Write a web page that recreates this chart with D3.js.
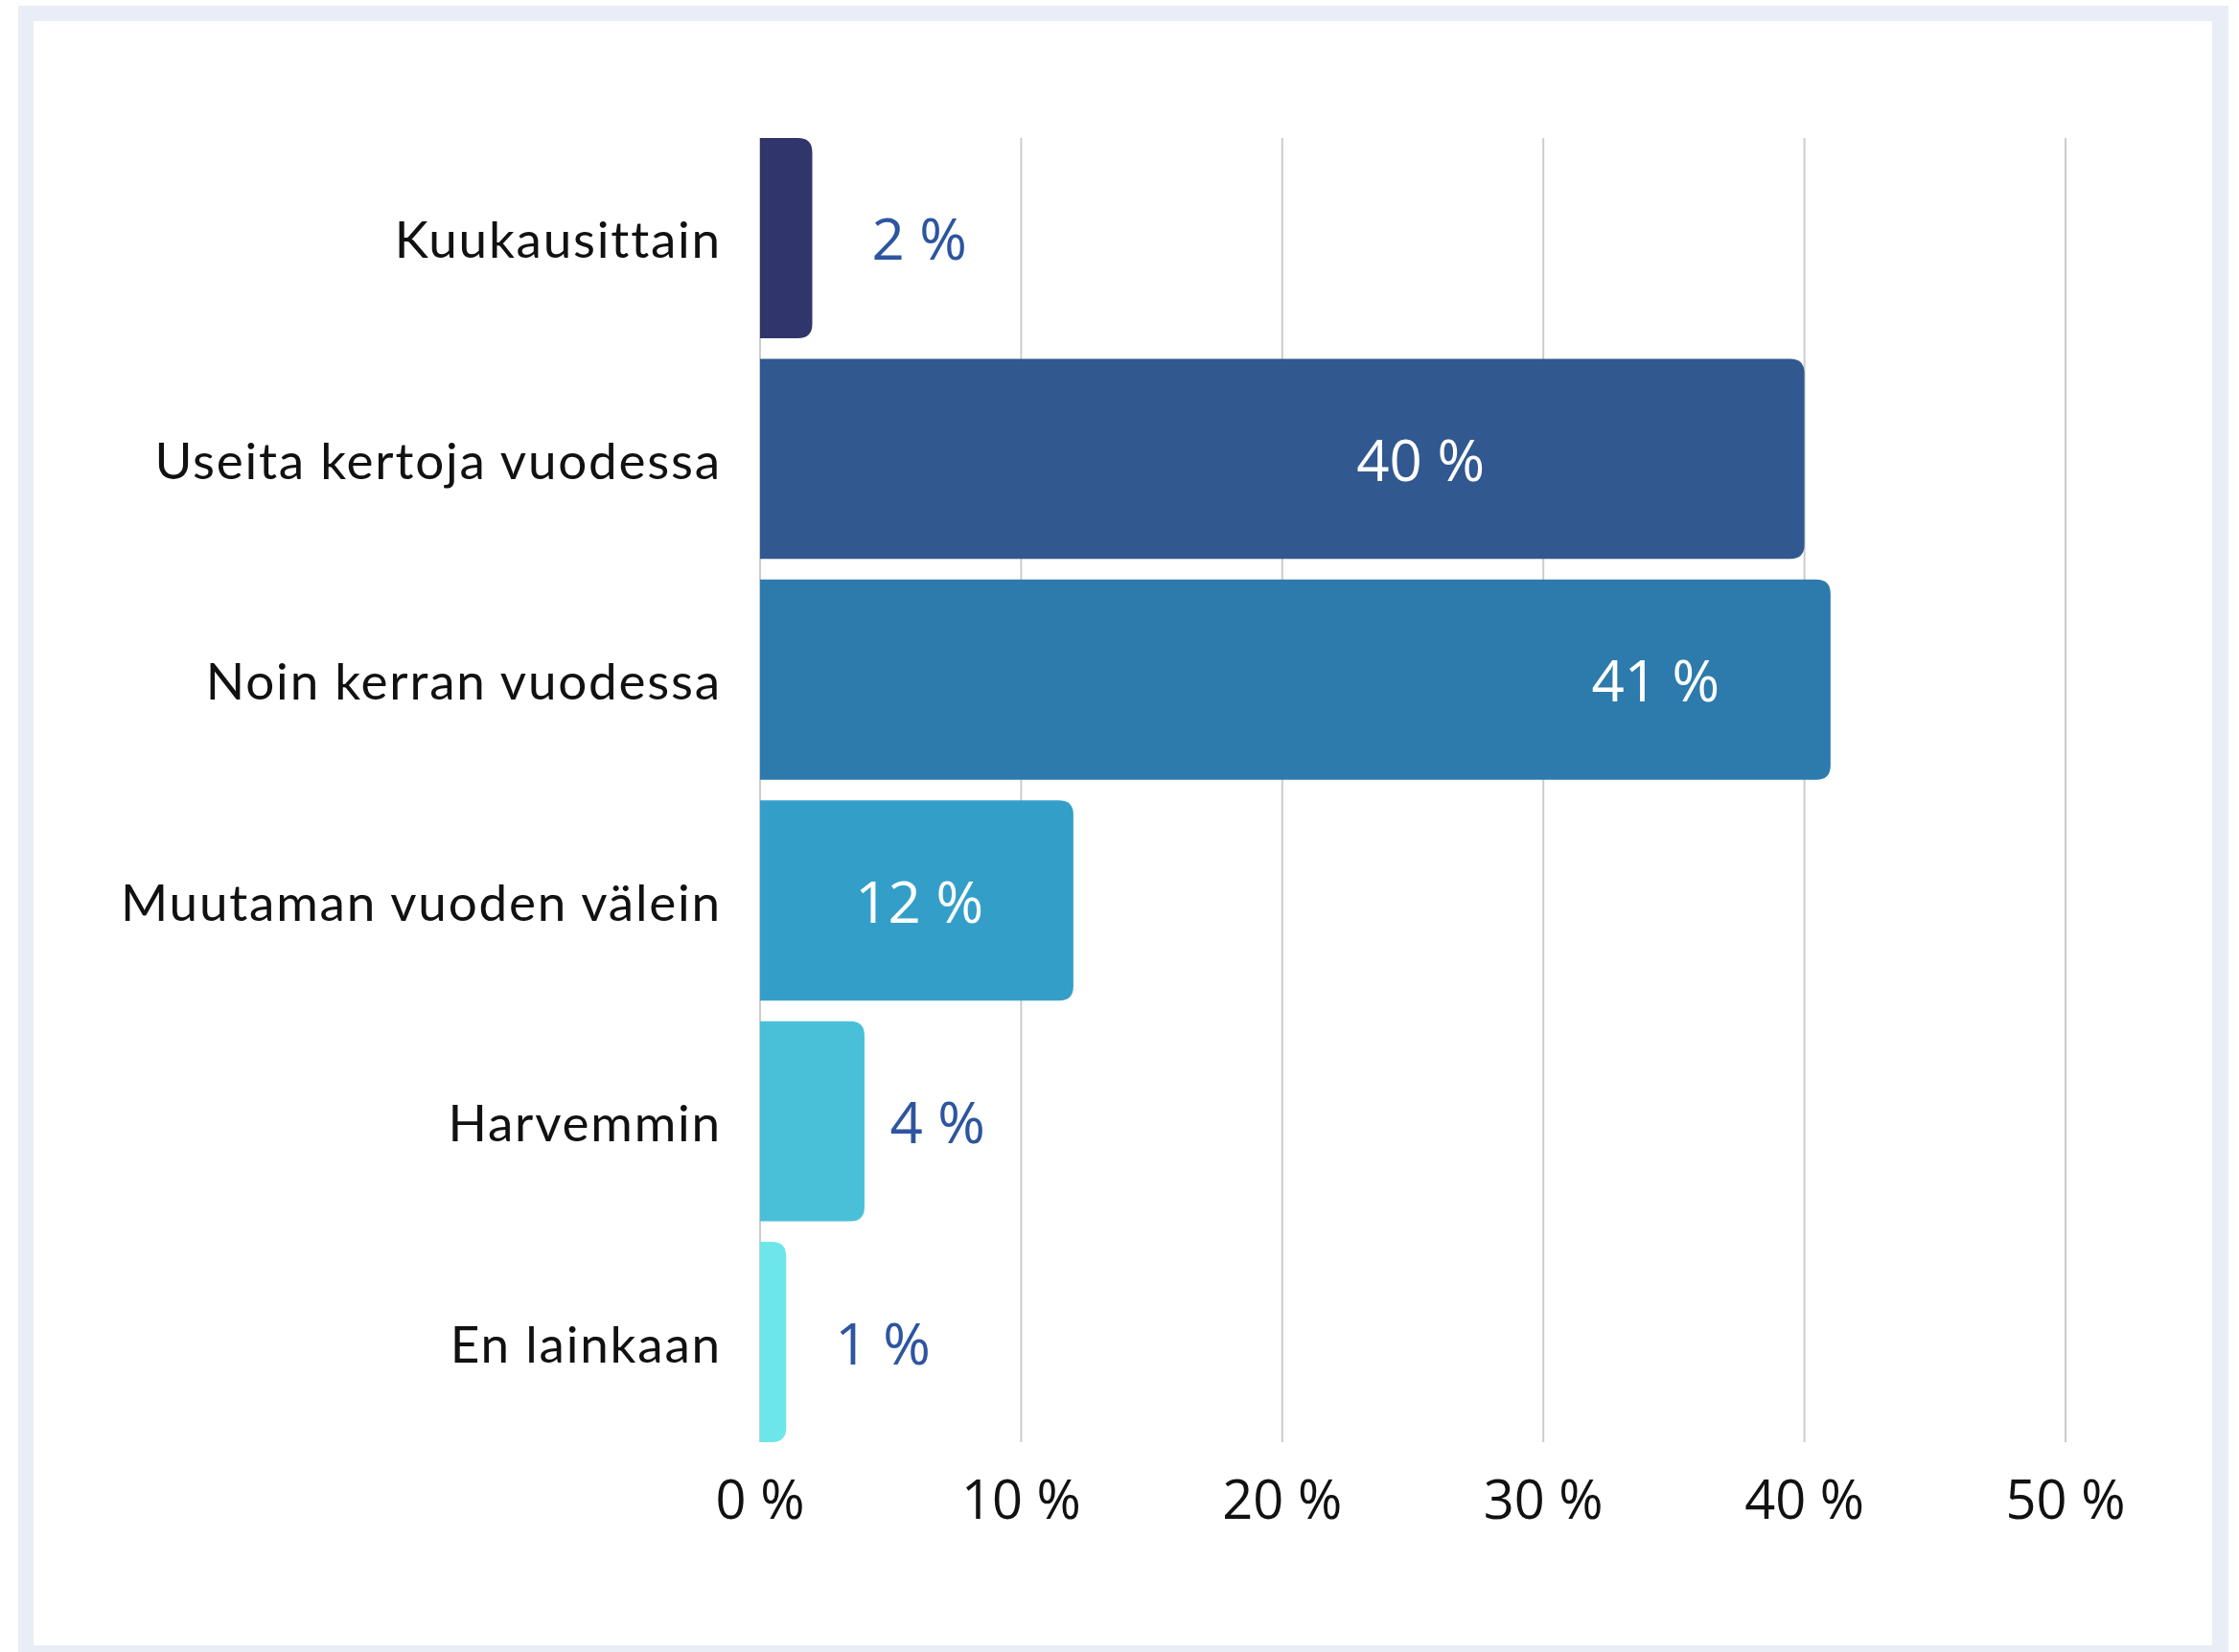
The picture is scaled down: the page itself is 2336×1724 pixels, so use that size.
<!DOCTYPE html>
<html>
<head>
<meta charset="utf-8">
<script src="https://cdn.jsdelivr.net/npm/d3@7"></script>
<style>
  html, body { margin: 0; padding: 0; background: #fff; }
  svg { display: block; }
</style>
</head>
<body>
<svg id="chart"></svg>
<script>
// Data
const categories = ["Kuukausittain", "Useita kertoja vuodessa", "Noin kerran vuodessa",
                    "Muutaman vuoden välein", "Harvemmin", "En lainkaan"];
const values = [2, 40, 41, 12, 4, 1];
// where each value label sits, in axis units (%)
const labelAt = [6.1, 25.3, 34.3, 6.1, 6.8, 4.7];
const ticks = [0, 10, 20, 30, 40, 50];
const barColors = ["#30356b", "#31588f", "#2d7aad", "#339fc8", "#4ac0d8", "#6de6e9"];

const width = 2336, height = 1724;
const svg = d3.select("#chart").attr("width", width).attr("height", height);

// Frame
svg.append("rect").attr("x", 19).attr("y", 6).attr("width", 2306).attr("height", 1730).attr("fill", "#e9edf6");
svg.append("rect").attr("x", 35).attr("y", 22).attr("width", 2273).attr("height", 1695).attr("fill", "#ffffff");

const x = d3.scaleLinear().domain([0, 50]).range([793, 2155]);
const y = d3.scaleBand().domain(categories).range([144, 1505]).paddingInner(0.0933).paddingOuter(0);

// Grid lines
svg.append("g").selectAll("line")
    .data(ticks)
    .enter().append("line")
    .attr("x1", d => x(d)).attr("x2", d => x(d))
    .attr("y1", 144).attr("y2", 1505)
    .attr("stroke", "#cccccc")
    .attr("stroke-width", 2);

// Tick labels
svg.append("g").selectAll("text")
    .data(ticks)
    .enter().append("text")
    .attr("x", d => x(d))
    .attr("y", 1585)
    .attr("text-anchor", "middle")
    .style("font-family", "'Open Sans', sans-serif")
    .style("font-size", "56px")
    .attr("fill", "#111")
    .text(d => d + " %");

// Bars with rounded right corners
const r = 15;
function barPath(x0, x1, y0, h) {
    const rr = Math.min(r, (x1 - x0));
    return `M${x0},${y0} H${x1 - rr} Q${x1},${y0} ${x1},${y0 + rr} V${y0 + h - rr} Q${x1},${y0 + h} ${x1 - rr},${y0 + h} H${x0} Z`;
}

const rows = categories.map((c, i) => ({ cat: c, value: values[i], labelAt: labelAt[i], color: barColors[i] }));

svg.append("g").selectAll("path")
    .data(rows)
    .enter().append("path")
    .attr("d", d => barPath(x(0), x(d.value), y(d.cat), y.bandwidth()))
    .attr("fill", d => d.color);

// Category labels
svg.append("g").selectAll("text")
    .data(rows)
    .enter().append("text")
    .attr("x", 753)
    .attr("y", d => y(d.cat) + y.bandwidth() / 2 + 21)
    .attr("text-anchor", "end")
    .style("font-family", "Lato, sans-serif")
    .style("font-size", "53px")
    .style("letter-spacing", "1.8px")
    .attr("fill", "#111")
    .text(d => d.cat);

// Value labels
svg.append("g").selectAll("text")
    .data(rows)
    .enter().append("text")
    .attr("x", d => x(d.labelAt))
    .attr("y", d => y(d.cat) + y.bandwidth() / 2 + 23)
    .attr("text-anchor", "middle")
    .style("font-family", "'Open Sans', sans-serif")
    .style("font-size", "60px")
    .attr("fill", d => d.labelAt < d.value ? "#ffffff" : "#2d55a0")
    .text(d => d.value + " %");
</script>
</body>
</html>
